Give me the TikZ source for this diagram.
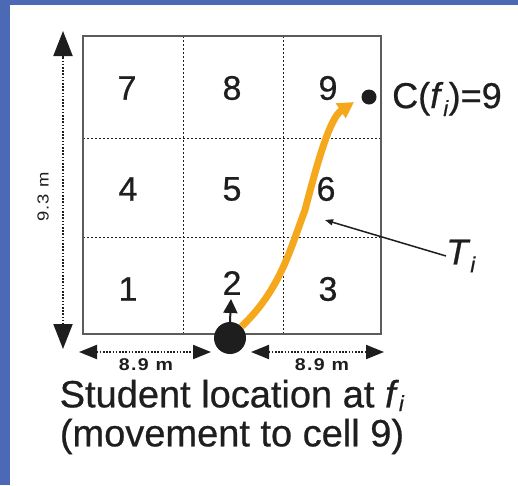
\documentclass[tikz,border=0pt]{standalone}
\usepackage{fontspec}
\setmainfont[FakeBold=0.6]{Liberation Sans}
\newfontfamily\gcdimfont[LetterSpace=8,FakeStretch=1.15]{Liberation Sans}
\newcommand\gcsub[2][-0.22em]{\raisebox{#1}{\fontsize{22}{22}\selectfont\textit{#2}}}
\usetikzlibrary{arrows.meta,positioning}
\definecolor{gcBlue}{HTML}{4B69B4}
\definecolor{gcInk}{HTML}{1E1E1E}
\definecolor{gcFrame}{HTML}{5C5C5C}
\definecolor{gcGold}{HTML}{F5A81C}
\tikzset{
  gc border/.style={draw=gcFrame, line width=2.6pt},
  gc grid/.style={draw=gcInk, line width=1pt, dash pattern=on 2pt off 2pt},
  gc cell/.style={font=\fontsize{34}{34}\selectfont, text=gcInk, inner sep=0pt},
  gc dim/.style={
    draw=gcInk,
    line width=2pt,
    dash pattern=on 1.6pt off 1.6pt,
    {Triangle[length=18pt,width=14pt]}-{Triangle[length=18pt,width=14pt]}
  },
  gc dim big/.style={gc dim,
    {Triangle[length=25pt,width=19pt]}-{Triangle[length=25pt,width=19pt]}},
  gc dim label/.style={font=\gcdimfont\bfseries\fontsize{17}{17}\selectfont, text=gcInk, inner sep=0pt},
  gc walk/.style={
    draw=gcGold,
    line width=7pt,
    -{Triangle[length=16pt,width=17pt]}
  },
  gc pointer/.style={draw=gcInk, line width=1.5pt, -{Triangle[length=8pt,width=6pt]}},
  gc dot/.style={circle, fill=gcInk, inner sep=0pt},
  gc label/.style={font=\fontsize{36}{36}\selectfont, text=gcInk, inner sep=0pt},
  gc caption/.style={font=\fontsize{38}{39}\selectfont, text=gcInk, align=center, inner sep=0pt}
}
\begin{document}
\begin{tikzpicture}[x=1pt,y=-1pt]
  % frame and page
  \path[fill=gcBlue] (0,0) rectangle (518,485);
  \path[fill=white] (10,5) rectangle (518,485);

  % the 3x3 room grid
  \draw[gc grid] (183,36) -- (183,334);
  \draw[gc grid] (283,36) -- (283,334);
  \draw[gc grid] (83,138) -- (381,138);
  \draw[gc grid] (83,237) -- (381,237);
  \draw[gc border] (83,36) rectangle (381,334);

  \foreach \num/\cx/\cy in {7/127/88, 8/232/88, 9/328/88,
                            4/128/189, 5/232/189, 6/326/189,
                            1/128/289, 3/328/289}
    \node[gc cell] (cell\num) at (\cx,\cy) {\num};
  \node[gc cell] (cell2) at (232,283) {2};

  % room size
  \coordinate (dimTop) at (63,31);
  \coordinate (dimBot) at (63,349);
  \draw[gc dim big] (dimBot) -- (dimTop);
  \node[gc dim label, rotate=90, font=\gcdimfont\fontsize{16}{16}\selectfont] (height) at (43,197) {9.3 m};

  % student
  \node[gc dot, minimum size=32pt] (student) at (230,338) {};
  \coordinate (headTip) at (231,299);
  \draw[draw=gcInk, line width=2pt, -{Triangle[length=14pt,width=14pt]}] (student.north) -- (headTip);

  \coordinate (leftA) at (79,352);
  \coordinate (leftB) at (211,352);
  \coordinate (rightA) at (251,352);
  \coordinate (rightB) at (384,352);
  \draw[gc dim] (leftA) -- (leftB);
  \draw[gc dim] (rightA) -- (rightB);
  \node[gc dim label] (widthL) at (146,365) {8.9 m};
  \node[gc dim label] (widthR) at (322,365) {8.9 m};

  % trajectory to cell 9
  \node[gc dot, minimum size=15pt] (target) at (369,97) {};
  \draw[gc walk] (student.45) .. controls (280,290) and (290,250) .. (305,210)
                 .. controls (318,160) and (330,118) .. (354,102);
  \node[gc label, anchor=west] (cf) at (392,99) {C(\textit{f}\gcsub{i})=9};

  \node[gc label, anchor=west] (traj) at (446,256) {\textit{T}\gcsub{i}};
  \coordinate (trajTip) at (325,220);
  \draw[gc pointer] (traj.west) -- (trajTip);

  % caption
  \node[gc caption] (caption) at (232,417)
    {Student location at \textit{f}\gcsub[-0.1em]{i}\\(movement to cell 9)};
\end{tikzpicture}
\end{document}
